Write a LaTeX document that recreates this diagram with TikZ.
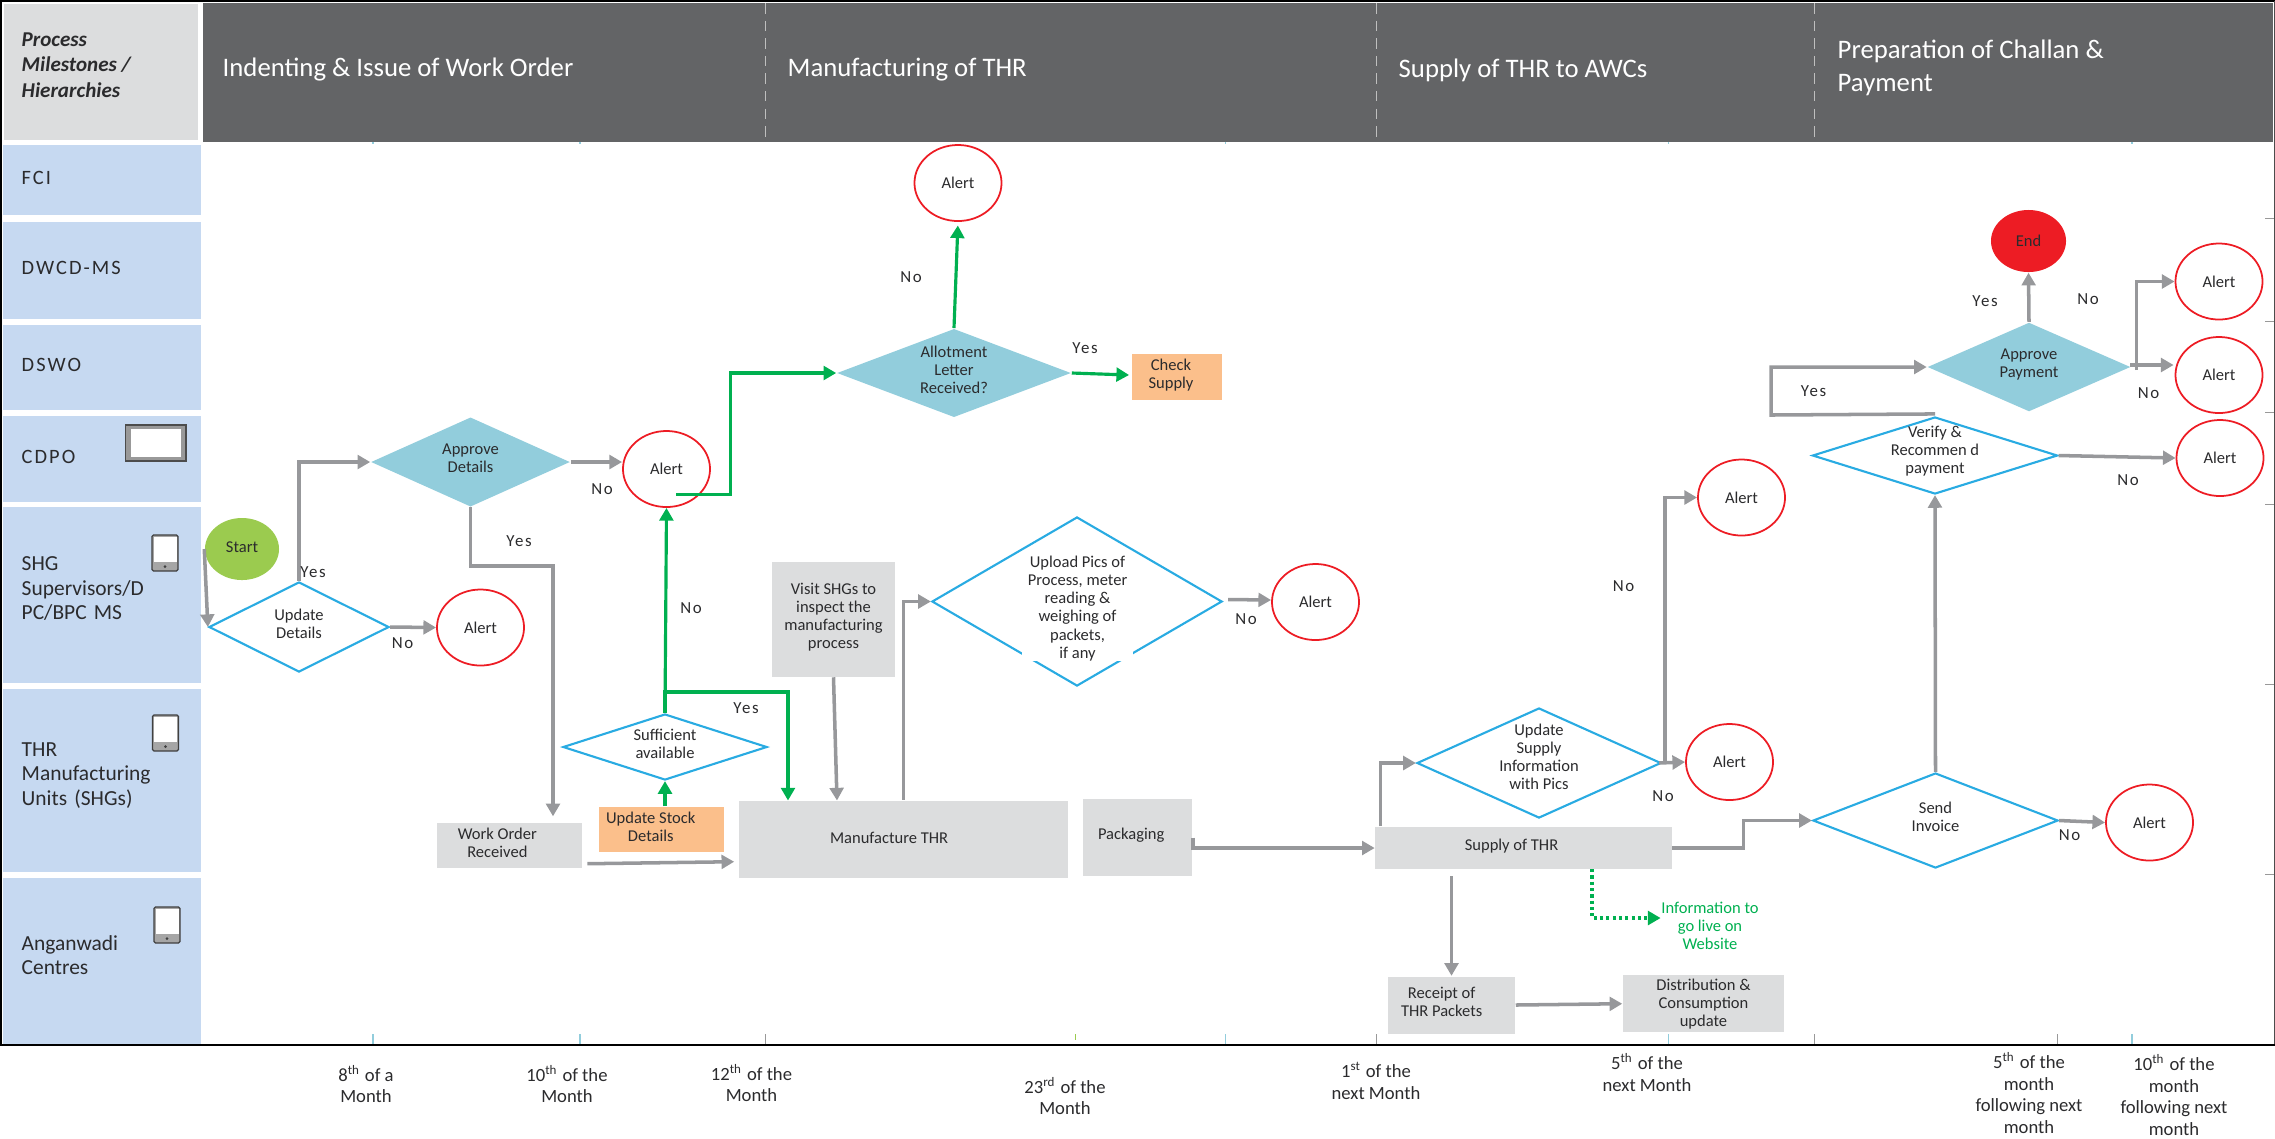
\documentclass[tikz,border=0pt]{standalone}
\usepackage{fontspec}
\usepackage{tikz}
\usetikzlibrary{arrows.meta,shapes.geometric}
\setmainfont{Carlito}
\newfontfamily\spaced[LetterSpace=10]{Carlito}

\definecolor{lanefill}{HTML}{C6D9F1}
\definecolor{headdark}{HTML}{636466}
\definecolor{boxgrey}{HTML}{DCDDDE}
\definecolor{boxorange}{HTML}{FBBF8B}
\definecolor{diateal}{HTML}{92CDDC}
\definecolor{diablue}{HTML}{29ABE2}
\definecolor{alertred}{HTML}{ED1C24}
\definecolor{linegrey}{HTML}{97989B}
\definecolor{flowgreen}{HTML}{00B050}
\definecolor{startgreen}{HTML}{9BCB4F}
\definecolor{inkgrey}{HTML}{2B2B2D}

\tikzset{
    lift/.style={execute at end node={\rule[-#1]{0pt}{0pt}}},
    lanelift/.style={execute at end node={\par\vspace*{#1}}},
    smalltext/.style={font=\fontsize{4.7}{5.15}\selectfont, text=inkgrey, align=center, inner sep=0pt},
    lanebox/.style={anchor=north west, fill=lanefill, minimum width=1.98cm, text width=1.6cm, inner xsep=0.19cm, inner ysep=0pt, align=left, text=inkgrey, font=\fontsize{6.1}{7}\selectfont},
    headtext/.style={anchor=west, text=white, inner sep=0pt, align=left, font=\fontsize{7.6}{9.2}\selectfont},
    datetext/.style={text=inkgrey, align=center, inner sep=0pt, font=\fontsize{5.3}{6.2}\selectfont},
    greybox/.style={smalltext, fill=boxgrey},
    orangebox/.style={smalltext, fill=boxorange},
    alertnode/.style={smalltext, ellipse, draw=alertred, line width=0.5pt, fill=white, minimum width=0.87cm, minimum height=0.76cm},
    bluedia/.style={smalltext, diamond, draw=diablue, line width=0.6pt, fill=white, lift=2pt},
    tealdia/.style={smalltext, diamond, fill=diateal, lift=2pt},
    yesno/.style={smalltext, font=\fontsize{4.8}{5.1}\spaced},
    greyarrow/.style={draw=linegrey, line width=1pt, -{Triangle[length=3.6pt,width=3.9pt]}},
    greenarrow/.style={draw=flowgreen, line width=0.9pt, -{Triangle[length=3.6pt,width=3.9pt]}}
}

\newcommand{\phoneicon}[2]{
    \draw[draw=black!75, fill=black!35, line width=0.35pt, rounded corners=0.4pt] (#1,#2) rectangle ++(26,36);
    \fill[white] (#1+1.5,#2+1.5) rectangle (#1+24.5,#2+27);
    \fill[black!75] (#1+13,#2+31.5) circle (1.5);
}

\begin{document}
\begin{tikzpicture}[x=0.01cm,y=-0.01cm]
    \useasboundingbox (0,0) rectangle (2275,1138);

    % header band
    \fill[headdark] (203,3) rectangle (2273,142);
    \node[anchor=north west, fill=boxgrey, minimum width=1.94cm, minimum height=1.36cm] (headcorner) at (3,3) {};
    \node[anchor=west, inner sep=0pt, align=left, text=inkgrey, font=\fontsize{6}{7.2}\selectfont\bfseries\itshape] (headmile) at (21,65) {Process\\Milestones /\\Hierarchies};
    \node[headtext] (headindent) at (222,70) {Indenting \& Issue of Work Order};
    \node[headtext] (headmanu) at (787,70) {Manufacturing of THR};
    \node[headtext] (headsupply) at (1398,70) {Supply of THR to AWCs};
    \node[headtext] (headpay) at (1837,68) {Preparation of Challan \&\\Payment};
    \draw[white!75!black, line width=0.25pt, dash pattern=on 3pt off 2pt] (765,3) -- (765,143);
    \draw[white!75!black, line width=0.25pt, dash pattern=on 3pt off 2pt] (1376.5,3) -- (1376.5,143);
    \draw[white!75!black, line width=0.25pt, dash pattern=on 3pt off 2pt] (1814,3) -- (1814,143);

    % lanes
    \node[lanebox, lanelift=1.2pt, font=\fontsize{5.8}{7}\spaced, minimum height=0.705cm] (lanefci) at (2,144) {FCI};
    \node[lanebox, lanelift=1.2pt, font=\fontsize{5.8}{7}\spaced, minimum height=0.97cm] (lanedwcd) at (2,221) {DWCD-MS};
    \node[lanebox, lanelift=1.2pt, font=\fontsize{5.8}{7}\spaced, minimum height=0.85cm] (lanedswo) at (2,324) {DSWO};
    \node[lanebox, lanelift=1.2pt, font=\fontsize{5.8}{7}\spaced, minimum height=0.86cm] (lanecdpo) at (2,415) {CDPO};
    \node[lanebox, lanelift=3.4pt, minimum height=1.76cm] (laneshg) at (2,506) {SHG\\Supervisors/D\\PC/BPC MS};
    \node[lanebox, lanelift=2.8pt, minimum height=1.83cm] (lanethr) at (2,688) {THR\\Manufacturing\\Units (SHGs)};
    \node[lanebox, lanelift=3.4pt, minimum height=1.67cm] (laneawc) at (2,877) {Anganwadi\\Centres};

    % icons
    \draw[draw=black!70, fill=black!40, line width=0.35pt] (125.5,425) rectangle (186,461);
    \fill[white] (131,429) rectangle (180.5,457);
    \phoneicon{152}{535}
    \phoneicon{152.5}{715}
    \phoneicon{154}{907}

    % frame
    \draw[black, line width=0.4pt] (0,1) -- (2275,1);
    \draw[black, line width=0.5pt] (1,1) -- (1,1045);
    \draw[black!70, line width=0.25pt] (2274,1) -- (2274,1045);
    \draw[black, line width=0.6pt] (0,1045) -- (2275,1045);

    % ticks
    \draw[diateal, line width=0.35pt] (373,1034) -- (373,1044) (580,1034) -- (580,1044) (1225.5,1034) -- (1225.5,1044) (1668.5,1034) -- (1668.5,1044) (2132,1034) -- (2132,1044);
    \draw[diateal, line width=0.35pt] (373,142) -- (373,144) (580,142) -- (580,144) (1225.5,142) -- (1225.5,144) (1668.5,142) -- (1668.5,144) (2132,142) -- (2132,144);
    \draw[black!40, line width=0.2pt] (765,1034) -- (765,1044) (1376.5,1034) -- (1376.5,1044) (1814,1034) -- (1814,1044) (2057.6,1034) -- (2057.6,1044);
    \draw[startgreen, line width=0.3pt] (1075.5,1034) -- (1075.5,1040);
    \draw[black!40, line width=0.2pt] (2265,218) -- (2274,218) (2265,321) -- (2274,321) (2265,412) -- (2274,412) (2265,504) -- (2274,504) (2265,684.6) -- (2274,684.6) (2265,874) -- (2274,874);

    % start and first decisions
    \node[smalltext, lift=1.2pt, ellipse, fill=startgreen, minimum width=0.74cm, minimum height=0.62cm] (start) at (242,549) {Start};
    \node[bluedia, aspect=2, minimum width=1.8cm, minimum height=0.9cm] (upddetails) at (299,627) {Update\\Details};
    \node[alertnode] (alertupd) at (480.5,627.5) {Alert};
    \node[tealdia, aspect=2.2, minimum width=1.99cm, minimum height=0.895cm] (appdetails) at (470.5,462) {Approve\\Details};
    \node[alertnode] (alertapp) at (666.5,469) {Alert};

    % manufacturing
    \node[greybox, minimum width=1.446cm, minimum height=0.45cm, label={[smalltext,xshift=-3.4pt,yshift=0.7pt]center:Work Order\\Received}] (workorder) at (509.3,845.5) {};
    \node[orangebox, minimum width=1.255cm, minimum height=0.45cm, label={[smalltext,xshift=-3pt,yshift=0.8pt]center:Update Stock\\Details}] (updstock) at (661.3,829.5) {};
    \node[bluedia, aspect=3.1, minimum width=2.04cm, minimum height=0.66cm] (sufficient) at (665,747) {Sufficient\\available};
    \node[greybox, minimum width=3.29cm, minimum height=0.77cm, label={[smalltext,xshift=-4.1pt,yshift=0.5pt]center:Manufacture THR}] (manufacture) at (903.5,839.2) {};
    \node[greybox, minimum width=1.09cm, minimum height=0.77cm, label={[smalltext,xshift=-1.8pt,yshift=0.7pt]center:Packaging}] (packaging) at (1137.5,837.5) {};
    \node[greybox, lift=2pt, minimum width=1.23cm, minimum height=1.14cm] (visit) at (833.5,619.5) {Visit SHGs to\\inspect the\\manufacturing\\process};
    \node[bluedia, minimum width=2.9cm, minimum height=1.69cm] (upload) at (1077,601.5) {};
    \node[smalltext, fill=white, minimum width=1.11cm, minimum height=1.05cm] (uploadtxt) at (1077.5,608.5) {Upload Pics of\\Process, meter\\reading \&\\weighing of\\packets,\\if any};
    \node[alertnode] (alertpics) at (1315.5,602) {Alert};
    \node[tealdia, lift=1pt, aspect=2.6, minimum width=2.34cm, minimum height=0.885cm] (allotment) at (954,373) {Allotment\\Letter\\Received?};
    \node[alertnode] (alerttop) at (958,183) {Alert};
    \node[orangebox, minimum width=0.904cm, minimum height=0.455cm, label={[smalltext,xshift=-1.7pt,yshift=0.5pt]center:Check\\Supply}] (checksupply) at (1177,377) {};

    % supply
    \node[greybox, minimum width=2.96cm, minimum height=0.42cm, label={[smalltext,xshift=-3.4pt,yshift=0.5pt]center:Supply of THR}] (supply) at (1523.5,848) {};
    \node[bluedia, minimum width=2.44cm, minimum height=1.1cm, label={[smalltext,yshift=1.85pt]center:Update\\Supply\\Information\\with Pics}] (updsupply) at (1539,763) {};
    \node[alertnode] (alertsupa) at (1741.5,497.5) {Alert};
    \node[alertnode] (alertsupb) at (1729.5,762) {Alert};
    \node[greybox, minimum width=1.27cm, minimum height=0.57cm, label={[smalltext,xshift=-2.8pt,yshift=0.8pt]center:Receipt of\\THR Packets}] (receipt) at (1451.5,1005) {};
    \node[greybox, minimum width=1.61cm, minimum height=0.575cm] (distrib) at (1703.5,1003.7) {Distribution \&\\Consumption\\update};
    \node[smalltext, text=flowgreen] (infoweb) at (1710,926) {Information to\\go live on\\Website};

    % payment
    \node[bluedia, aspect=2.6, minimum width=2.45cm, minimum height=0.95cm] (sendinv) at (1935.5,820.5) {Send\\Invoice};
    \node[alertnode] (alertinv) at (2149.5,822.5) {Alert};
    \node[bluedia, minimum width=2.45cm, minimum height=0.77cm, label={[smalltext,yshift=1.3pt]center:Verify \&\\Recommen d\\payment}] (verify) at (1935,455.5) {};
    \node[alertnode] (alertver) at (2220,458) {Alert};
    \node[tealdia, aspect=2.3, minimum width=2.03cm, minimum height=0.89cm] (apppay) at (2029,367) {Approve\\Payment};
    \node[alertnode] (alertpaya) at (2219,281.5) {Alert};
    \node[alertnode] (alertpayb) at (2219,375) {Alert};
    \node[smalltext, ellipse, fill=alertred, minimum width=0.75cm, minimum height=0.62cm] (endnode) at (2028.5,241) {End};

    % free ends of connectors
    \coordinate (wobend) at (553,566);
    \coordinate (alertout) at (676,494.5);
    \coordinate (alertbend) at (730.6,494.5);
    \coordinate (sufbend) at (788,692);
    \coordinate (manugreen) at (788,800.5);
    \coordinate (manuvisit) at (837,800.5);
    \coordinate (supprec) at (1451.5,876);
    \coordinate (dotstart) at (1592,869);
    \coordinate (verbend) at (1771,415);

    % grey connectors
    \draw[greyarrow] (start.west) -- (upddetails.west);
    \draw[greyarrow] (upddetails.north) |- (appdetails.west);
    \draw[greyarrow] (upddetails.east) -- (alertupd.west);
    \draw[greyarrow] (appdetails.east) -- (appdetails.east -| alertapp.west);
    \draw[greyarrow, shorten >=1.7pt] (appdetails.south) |- (wobend) -- (wobend |- workorder.north);
    \draw[greyarrow] ([shift={(5,-5)}]workorder.south east) -- ([shift={(-4,22.5)}]manufacture.west);
    \draw[greyarrow] (visit.south) -- (manuvisit);
    \draw[greyarrow] (manufacture.north) |- (upload.west);
    \draw[greyarrow] ([shift={(5,-2)}]upload.east) -- ([shift={(0,-2)}]alertpics.west);
    \draw[greyarrow] (packaging.east) -- (packaging.east |- supply.west) -- (supply.west);
    \draw[greyarrow] ([shift={(6,0)}]supply.north west) |- (updsupply.west);
    \draw[greyarrow] ([shift={(-3,0)}]updsupply.east) -- (alertsupb.west);
    \draw[greyarrow] ([shift={(3,0)}]updsupply.east) |- (alertsupa.west);
    \draw[greyarrow] (supply.east) -- ++(71,0) |- (sendinv.west);
    \draw[greyarrow] (sendinv.east) -- (alertinv.west);
    \draw[greyarrow] (sendinv.north) -- (verify.south);
    \draw[greyarrow] (verify.east) -- (alertver.west);
    \draw[greyarrow] ([shift={(0,-2)}]verify.north) -- (verbend) |- (apppay.west);
    \draw[greyarrow] (apppay.north) -- (endnode.south);
    \draw[greyarrow] ([shift={(-1,-2)}]apppay.east) -- ([shift={(-1,-2)}]apppay.east -| alertpayb.west);
    \draw[greyarrow] ([shift={(5,3)}]apppay.east) |- (alertpaya.west);
    \draw[greyarrow] (supprec) -- (receipt.north);
    \draw[greyarrow] (receipt.east) -- (distrib.west);

    % green connectors
    \draw[greenarrow] (updstock.north -| sufficient.south) -- (sufficient.south);
    \draw[greenarrow] (sufficient.north) -- (alertapp.south);
    \draw[greenarrow] (sufficient.north) |- (sufbend) -- (manugreen);
    \draw[greenarrow] (alertout) -- (alertbend) |- (allotment.west);
    \draw[greenarrow, shorten >=1pt] (allotment.north) -- (alerttop.south);
    \draw[greenarrow] (allotment.east) -- ([shift={(-2,-2)}]checksupply.west);
    \draw[greenarrow, dash pattern=on 0.9pt off 0.9pt] (dotstart) |- ([shift={(0,-8)}]infoweb.west);

    % yes and no
    \node[yesno] (yesupd) at (313,572) {Yes};
    \node[yesno] (noupd) at (402.5,643) {No};
    \node[yesno] (noapp) at (602,489.5) {No};
    \node[yesno] (yesapp) at (519,541) {Yes};
    \node[yesno] (nosuf) at (691,608) {No};
    \node[yesno] (yessuf) at (746,708) {Yes};
    \node[yesno] (noallot) at (911,277) {No};
    \node[yesno] (yesallot) at (1085,348) {Yes};
    \node[yesno] (nopics) at (1246,619) {No};
    \node[yesno] (nosupa) at (1623.5,586) {No};
    \node[yesno] (nosupb) at (1663,796) {No};
    \node[yesno] (noinv) at (2069.5,835) {No};
    \node[yesno] (nover) at (2128,480.5) {No};
    \node[yesno] (yesver) at (1813.5,391) {Yes};
    \node[yesno] (yesend) at (1985,301) {Yes};
    \node[yesno] (nopaya) at (2088,299) {No};
    \node[yesno] (nopayb) at (2148.5,393) {No};

    % dates
    \node[datetext] (dateeight) at (366,1084) {8\textsuperscript{th} of a\\Month};
    \node[datetext] (dateten) at (567,1084) {10\textsuperscript{th} of the\\Month};
    \node[datetext] (datetwelve) at (751.5,1083) {12\textsuperscript{th} of the\\Month};
    \node[datetext] (datetwenty) at (1065,1096) {23\textsuperscript{rd} of the\\Month};
    \node[datetext] (datefirst) at (1376,1081) {1\textsuperscript{st} of the\\next Month};
    \node[datetext] (datefifth) at (1647,1072.5) {5\textsuperscript{th} of the\\next Month};
    \node[datetext] (datefifthb) at (2029,1093) {5\textsuperscript{th} of the\\month\\following next\\month};
    \node[datetext] (datetenb) at (2174,1095) {10\textsuperscript{th} of the\\month\\following next\\month};
\end{tikzpicture}
\end{document}
